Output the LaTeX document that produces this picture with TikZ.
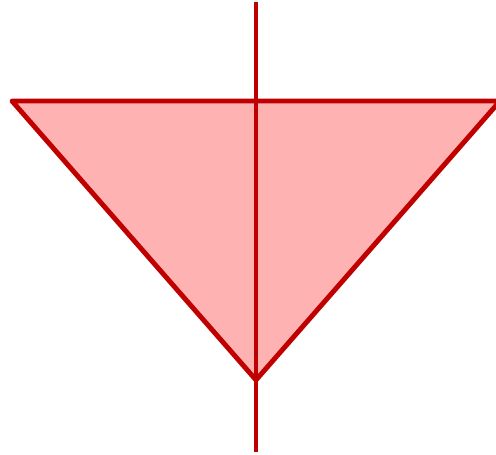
\documentclass[tikz,border=0pt]{standalone}
\definecolor{edgered}{RGB}{192,0,0}
\definecolor{fillred}{RGB}{255,178,178}
\begin{document}
\begin{tikzpicture}[x=0.02cm,y=0.02cm]
  \useasboundingbox (0,0) rectangle (496,455);
  \clip (0,0) rectangle (496,455);
  \coordinate (L) at (12,354);
  \coordinate (R) at (500,354);
  \coordinate (V) at (256,75);
  \coordinate (T) at (256,453);
  \coordinate (B) at (256,3);
  % Triangle
  \draw[line width=2.8pt,edgered,fill=fillred,line join=round] (L) -- (R) -- (V) -- cycle;
  % Axis
  \draw[line width=2.8pt,edgered] (T) -- (B);
\end{tikzpicture}
\end{document}
